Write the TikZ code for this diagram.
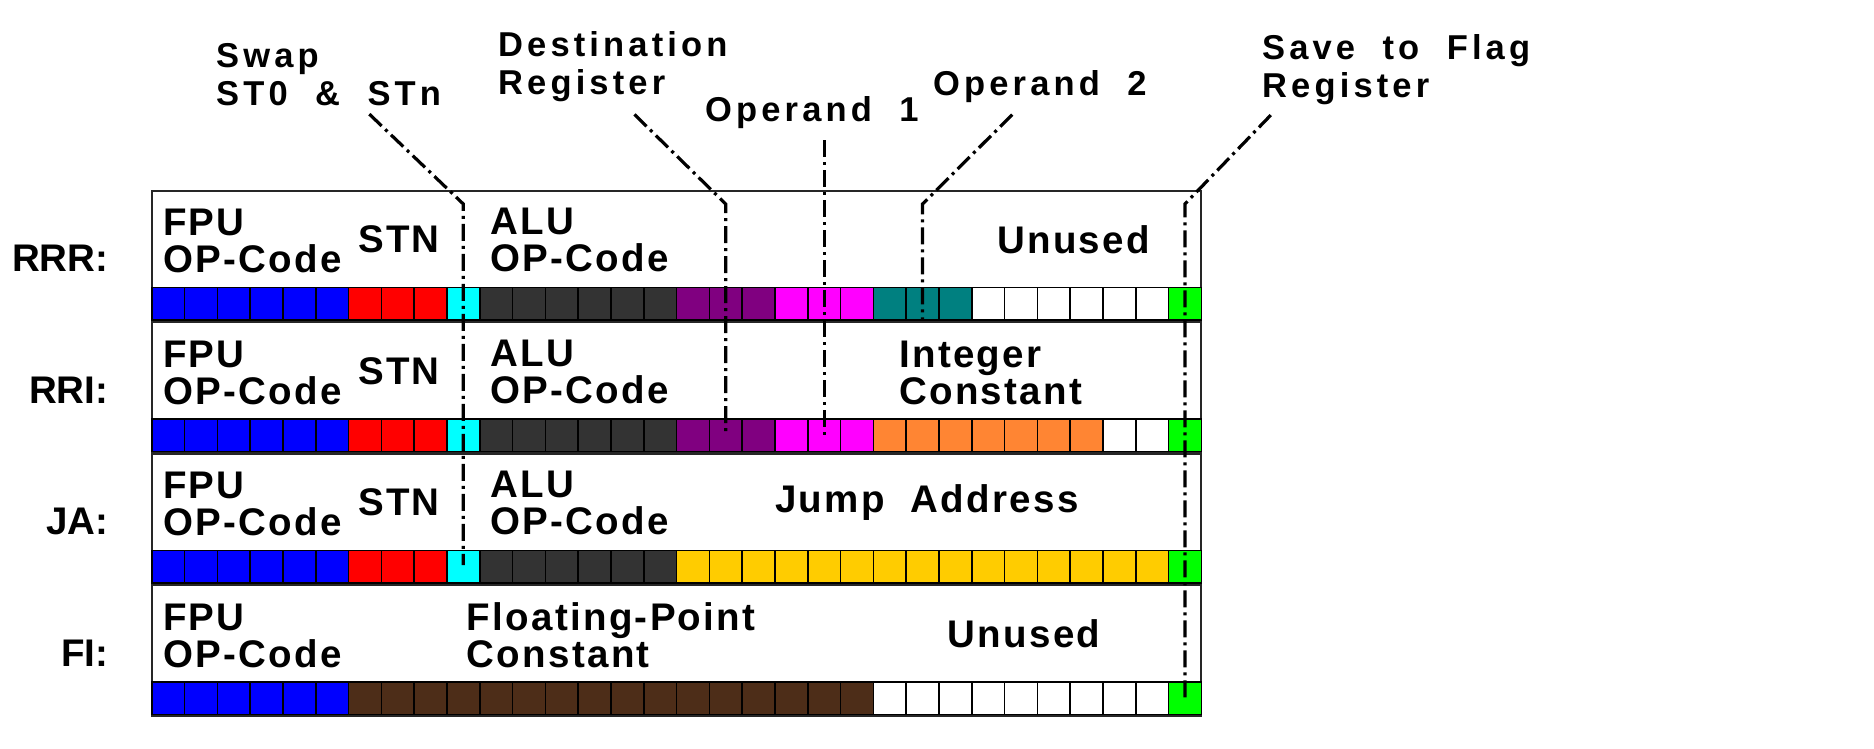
\documentclass[tikz,border=0pt]{standalone}
\usepackage{fontspec}
\setmainfont{Liberation Sans}[LetterSpace=6,WordSpace=2]
\usetikzlibrary{positioning}

\definecolor{fpublue}{HTML}{0000FF}
\definecolor{stnred}{HTML}{FF0000}
\definecolor{swapcyan}{HTML}{00FFFF}
\definecolor{alugray}{HTML}{333333}
\definecolor{destpurple}{HTML}{800080}
\definecolor{opmagenta}{HTML}{FF00FF}
\definecolor{opteal}{HTML}{008080}
\definecolor{flaggreen}{HTML}{00FF00}
\definecolor{intorange}{HTML}{FF8533}
\definecolor{jumpyellow}{HTML}{FFCC00}
\definecolor{floatbrown}{HTML}{4D2D18}

\tikzset{
	rowbox/.style={draw=black!85, line width=2pt},
	bitcell/.style={draw=black, line width=1.6pt},
	field/.style={font=\bfseries\fontsize{38.5}{37}\selectfont, inner sep=0pt, anchor=base west, align=left},
	rowname/.style={font=\bfseries\fontsize{38.5}{37}\selectfont\addfontfeatures{LetterSpace=0}, inner sep=0pt, anchor=base east},
	caption/.style={font=\bfseries\fontsize{34.5}{38}\selectfont\addfontfeatures{LetterSpace=12}, inner sep=0pt, anchor=base west, align=left},
	leader/.style={line width=3.2pt, dash pattern=on 17pt off 5pt on 3pt off 5pt}
}

% one run of bit cells: top of row, first bit, last bit, colour
\newcommand{\bitrun}[4]{%
	\foreach \i in {#2,...,#3}
		\draw[bitcell, fill=#4] ({\bitx+\i*\bitw},{#1+97}) rectangle ++(\bitw,32.5);
}

\begin{document}
\begin{tikzpicture}[x=1pt, y=-1pt]
		\def\bitx{151.7}
		\def\bitw{32.8}
		\def\rowa{190.5}
		\def\rowb{322}
		\def\rowc{453.5}
		\def\rowd{585}
		
		\fill[white] (0,0) rectangle (1874,749);
		\useasboundingbox (0,0) rectangle (1874,749);
		
		% Draw the rows
		\foreach \t in {\rowa,\rowb,\rowc,\rowd}
			\draw[rowbox] (\bitx,\t) rectangle ({\bitx+32*\bitw},{\t+130.5});
		
		% Fill the bits
		\foreach \a/\b/\c in {0/5/fpublue,6/8/stnred,9/9/swapcyan,10/15/alugray,16/18/destpurple,19/21/opmagenta,22/24/opteal,25/30/white,31/31/flaggreen}
			{\bitrun{\rowa}{\a}{\b}{\c}}
		\foreach \a/\b/\c in {0/5/fpublue,6/8/stnred,9/9/swapcyan,10/15/alugray,16/18/destpurple,19/21/opmagenta,22/28/intorange,29/30/white,31/31/flaggreen}
			{\bitrun{\rowb}{\a}{\b}{\c}}
		\foreach \a/\b/\c in {0/5/fpublue,6/8/stnred,9/9/swapcyan,10/15/alugray,16/30/jumpyellow,31/31/flaggreen}
			{\bitrun{\rowc}{\a}{\b}{\c}}
		\foreach \a/\b/\c in {0/5/fpublue,6/21/floatbrown,22/30/white,31/31/flaggreen}
			{\bitrun{\rowd}{\a}{\b}{\c}}
		
		% Label the formats
		\node[rowname] (rrr) at (108.5,{\rowa+81}) {RRR:};
		\node[rowname] (rri) at (108.5,{\rowb+81}) {RRI:};
		\node[rowname] (ja) at (108.5,{\rowc+81}) {JA:};
		\node[rowname] (fi) at (108.5,{\rowd+81}) {FI:};
		
		% Label the fields (base is the last line)
		\node[field] (rrrfpu) at (163,{\rowa+82}) {FPU\\OP-Code};
		\node[field] (rrrstn) at (358,{\rowa+62}) {STN};
		\node[field] (rrralu) at (490,{\rowa+81}) {ALU\\OP-Code};
		\node[field] (rrrunused) at (997,{\rowa+63}) {Unused};
		
		\node[field] (rrifpu) at (163,{\rowb+82}) {FPU\\OP-Code};
		\node[field] (rristn) at (358,{\rowb+62}) {STN};
		\node[field] (rrialu) at (490,{\rowb+81}) {ALU\\OP-Code};
		\node[field] (rriint) at (899,{\rowb+82}) {Integer\\Constant};
		
		\node[field] (jafpu) at (163,{\rowc+82}) {FPU\\OP-Code};
		\node[field] (jastn) at (358,{\rowc+62}) {STN};
		\node[field] (jaalu) at (490,{\rowc+81}) {ALU\\OP-Code};
		\node[field] (jajump) at (775,{\rowc+59}) {Jump Address};
		
		\node[field] (fifpu) at (163,{\rowd+82}) {FPU\\OP-Code};
		\node[field] (fifloat) at (466.5,{\rowd+82}) {Floating-Point\\Constant};
		\node[field] (fiunused) at (947.5,{\rowd+62}) {Unused};
		
		% Label the leaders
		\node[caption] (swap) at (216,106) {Swap\\ST0 \& STn};
		\node[caption] (dest) at (498,95) {Destination\\Register};
		\node[caption] (opone) at (705,121.7) {Operand 1};
		\node[caption] (optwo) at (933,96) {Operand 2};
		\node[caption] (flag) at (1262,97.5) {Save to Flag\\Register};
		
		\coordinate (swapbend) at ({\bitx+9.5*\bitw},204);
		\coordinate (swapend) at ({\bitx+9.5*\bitw},565);
		\coordinate (destbend) at ({\bitx+17.5*\bitw},204);
		\coordinate (destend) at ({\bitx+17.5*\bitw},433);
		\coordinate (oponeend) at ({\bitx+20.5*\bitw},438);
		\coordinate (optwobend) at ({\bitx+23.5*\bitw},204);
		\coordinate (optwoend) at ({\bitx+23.5*\bitw},320);
		\coordinate (flagbend) at ({\bitx+31.5*\bitw},204);
		\coordinate (flagend) at ({\bitx+31.5*\bitw},700);
		
		% Draw the leaders
		\draw[leader, shorten <=11pt] (swap) -- (swapbend) -- (swapend);
		\draw[leader, shorten <=17pt] (dest.-75) -- (destbend) -- (destend);
		\draw[leader, shorten <=11pt] (opone.south -| oponeend) -- (oponeend);
		\draw[leader, shorten <=16pt] (optwo) -- (optwobend) -- (optwoend);
		\draw[leader, shorten <=14pt] (flag.197) -- (flagbend) -- (flagend);
	\end{tikzpicture}
\end{document}
